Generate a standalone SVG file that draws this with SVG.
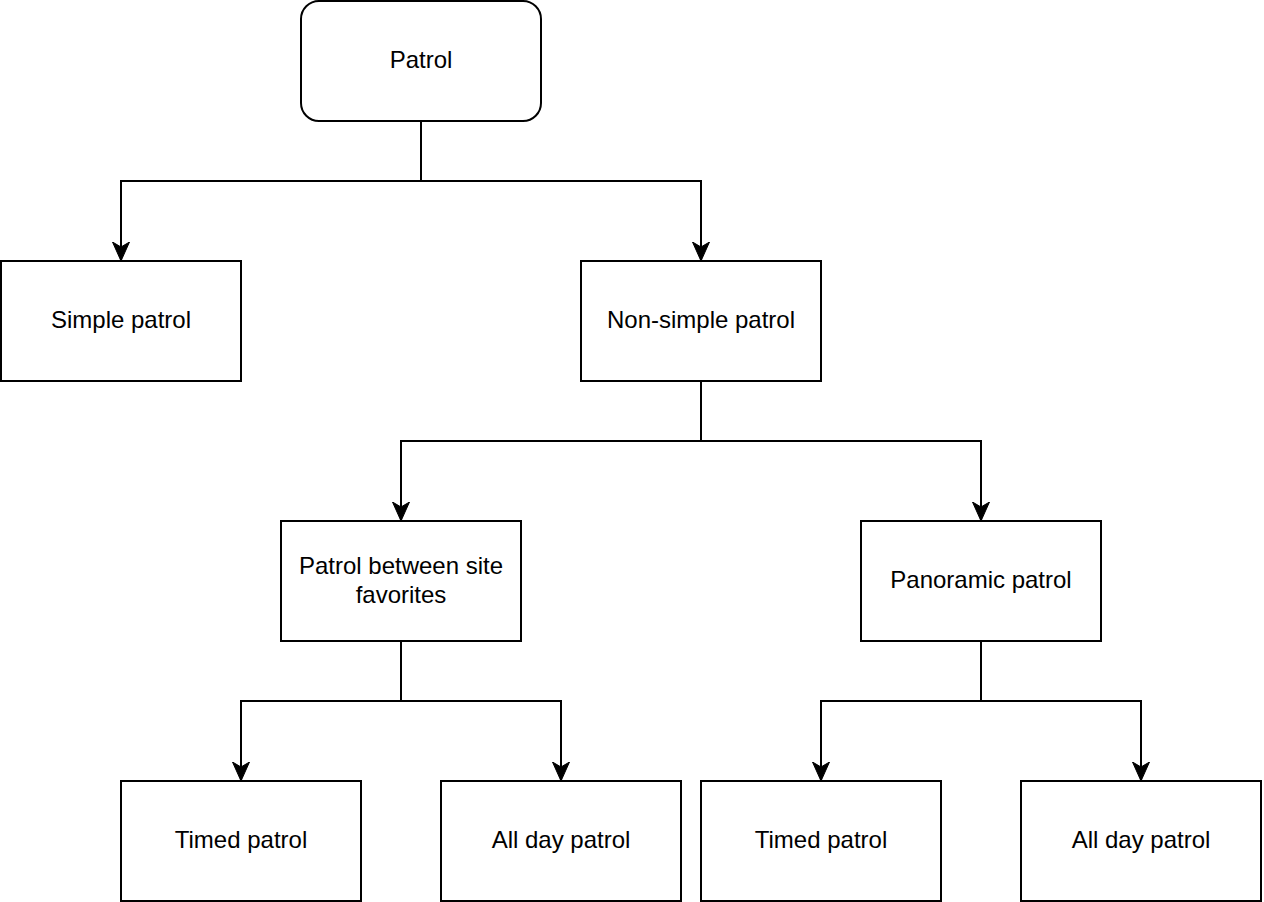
<svg xmlns="http://www.w3.org/2000/svg" width="1264" height="902" viewBox="0 0 1264 902">
<style>
.box{fill:#fff;stroke:#000;stroke-width:2}
.lbl{font-family:"Liberation Sans",Arial,Helvetica,sans-serif;font-size:24px;fill:#000;text-anchor:middle}
.edge{fill:none;stroke:#000;stroke-width:2;marker-end:url(#arr)}
</style>
<defs>
<marker id="arr" markerUnits="userSpaceOnUse" markerWidth="20" markerHeight="18" viewBox="0 0 20 18" refX="19" refY="9" orient="auto">
<path d="M19,9 L0,0.5 L5,9 L0,17.5 Z" fill="#000" stroke="#000" stroke-width="1"/>
</marker>
</defs>
<rect width="1264" height="902" fill="#fff"/>
<g id="connectors">
<path class="edge" d="M421,121 V181 H121 V261"/>
<path class="edge" d="M421,181 H701 V261"/>
<path class="edge" d="M701,381 V441 H401 V521"/>
<path class="edge" d="M701,441 H981 V521"/>
<path class="edge" d="M401,641 V701 H241 V781"/>
<path class="edge" d="M401,701 H561 V781"/>
<path class="edge" d="M981,641 V701 H821 V781"/>
<path class="edge" d="M981,701 H1141 V781"/>
</g>
<g id="patrol"><rect class="box" x="301" y="1" width="240" height="120" rx="18" ry="18"/><text class="lbl" x="421" y="68">Patrol</text></g>
<g id="simple"><rect class="box" x="1" y="261" width="240" height="120"/><text class="lbl" x="121" y="328">Simple patrol</text></g>
<g id="nonsimple"><rect class="box" x="581" y="261" width="240" height="120"/><text class="lbl" x="701" y="328">Non-simple patrol</text></g>
<g id="between"><rect class="box" x="281" y="521" width="240" height="120"/><text class="lbl" x="401" y="574">Patrol between site</text><text class="lbl" x="401" y="603">favorites</text></g>
<g id="panoramic"><rect class="box" x="861" y="521" width="240" height="120"/><text class="lbl" x="981" y="588">Panoramic patrol</text></g>
<g id="timed1"><rect class="box" x="121" y="781" width="240" height="120"/><text class="lbl" x="241" y="848">Timed patrol</text></g>
<g id="allday1"><rect class="box" x="441" y="781" width="240" height="120"/><text class="lbl" x="561" y="848">All day patrol</text></g>
<g id="timed2"><rect class="box" x="701" y="781" width="240" height="120"/><text class="lbl" x="821" y="848">Timed patrol</text></g>
<g id="allday2"><rect class="box" x="1021" y="781" width="240" height="120"/><text class="lbl" x="1141" y="848">All day patrol</text></g>
</svg>
